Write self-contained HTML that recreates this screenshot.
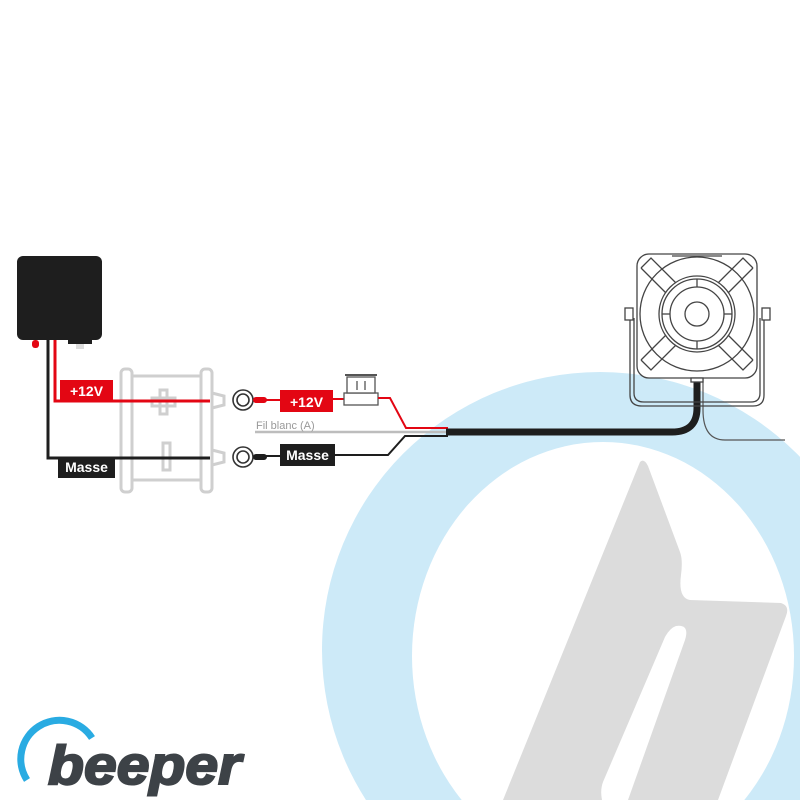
<!DOCTYPE html>
<html><head><meta charset="utf-8"><style>
html,body{margin:0;padding:0;background:#fff;width:800px;height:800px;overflow:hidden;}
svg{display:block;}
</style></head><body>
<svg width="800" height="800" viewBox="0 0 800 800" xmlns="http://www.w3.org/2000/svg" font-family="Liberation Sans, sans-serif">
<circle cx="600" cy="650" r="278" fill="#cdeaf8"/>
<ellipse cx="603" cy="656" rx="191" ry="214" fill="#fff"/>
<path d="M640,462 Q644,458 648,466 L680,552 Q683,560 681,575 Q678,598 690,600 L781,603 Q790,606 786,616 L718,800 L503,800 Z" fill="#dcdcdc"/>
<path d="M676,626 Q690,624 685,640 L628,800 L602,800 Q600,790 603,782 L665,637 Q670,628 676,626 Z" fill="#fff"/>

<rect x="17" y="256" width="85" height="84" rx="6" fill="#1e1e1e"/>
<rect x="32" y="340" width="7" height="8" rx="3" fill="#e30613"/>
<rect x="68" y="338" width="24" height="6" fill="#1e1e1e"/>
<rect x="76" y="344" width="8" height="5" fill="#ddd"/>

<g fill="none" stroke="#cfcfcf" stroke-width="3">
<rect x="121" y="369" width="11" height="123" rx="4"/>
<rect x="201" y="369" width="11" height="123" rx="4"/>
<line x1="132" y1="376" x2="201" y2="376"/>
<line x1="132" y1="480" x2="201" y2="480"/>
<path d="M212,393 L224,396 L224,405 L212,408"/>
<path d="M212,450 L224,453 L224,462 L212,465"/>
<rect x="160" y="390" width="7" height="24"/>
<rect x="152" y="398" width="23" height="8"/>
<rect x="163" y="443" width="7" height="27"/>
</g>

<polyline points="48,340 48,458 210,458" fill="none" stroke="#1e1e1e" stroke-width="3"/>
<polyline points="55,340 55,401 210,401" fill="none" stroke="#e30613" stroke-width="3"/>
<rect x="60" y="380" width="53" height="21" fill="#e30613"/>
<text x="86.5" y="396" font-size="14" font-weight="bold" fill="#fff" text-anchor="middle">+12V</text>
<rect x="58" y="457" width="57" height="21" fill="#1e1e1e"/>
<text x="86.5" y="472" font-size="14" font-weight="bold" fill="#fff" text-anchor="middle">Masse</text>

<g fill="none" stroke="#333" stroke-width="1.6">
<circle cx="243" cy="400" r="10"/><circle cx="243" cy="400" r="6"/>
<circle cx="243" cy="457" r="10"/><circle cx="243" cy="457" r="6"/>
</g>
<rect x="253" y="397" width="14" height="6" rx="3" fill="#e30613"/>
<rect x="253" y="454" width="14" height="6" rx="3" fill="#1e1e1e"/>

<line x1="265" y1="400" x2="282" y2="400" stroke="#e30613" stroke-width="2"/>
<rect x="280" y="390" width="53" height="22" fill="#e30613"/>
<text x="306.5" y="407" font-size="14" font-weight="bold" fill="#fff" text-anchor="middle">+12V</text>
<line x1="333" y1="399" x2="344" y2="399" stroke="#e30613" stroke-width="2"/>
<rect x="344" y="393" width="34" height="12" fill="#fff" stroke="#555" stroke-width="1.3"/>
<rect x="347" y="377" width="28" height="16" fill="#fff" stroke="#555" stroke-width="1.3"/>
<line x1="345" y1="375" x2="377" y2="375" stroke="#555" stroke-width="2"/>
<line x1="357" y1="381" x2="357" y2="390" stroke="#555" stroke-width="1.3"/>
<line x1="365" y1="381" x2="365" y2="390" stroke="#555" stroke-width="1.3"/>
<polyline points="378,398 390,398 406,428 448,428" fill="none" stroke="#e30613" stroke-width="2"/>

<line x1="255" y1="432" x2="448" y2="432" stroke="#bdbdbd" stroke-width="2.5"/>
<text x="256" y="429" font-size="11" fill="#999">Fil blanc (A)</text>

<line x1="265" y1="456" x2="282" y2="456" stroke="#1e1e1e" stroke-width="2"/>
<rect x="280" y="444" width="55" height="22" fill="#1e1e1e"/>
<text x="307.5" y="460" font-size="14" font-weight="bold" fill="#fff" text-anchor="middle">Masse</text>
<polyline points="335,455 388,455 405,436 448,436" fill="none" stroke="#1e1e1e" stroke-width="2"/>

<path d="M446,432 L672,432 Q697,432 697,408 L697,376" fill="none" stroke="#1e1e1e" stroke-width="7"/>
<path d="M703,378 L703,410 Q703,440 725,440 L785,440" fill="none" stroke="#555" stroke-width="1.2"/>

<g fill="none" stroke="#444" stroke-width="1.3">
<path d="M630,318 L630,395 Q630,406 642,406 L753,406 Q764,406 764,395 L764,318"/>
<path d="M634,318 L634,393 Q634,402 644,402 L751,402 Q760,402 760,393 L760,318"/>
<rect x="625" y="308" width="8" height="12" fill="#fff"/>
<rect x="762" y="308" width="8" height="12" fill="#fff"/>
<rect x="637" y="254" width="120" height="124" rx="12" fill="#fff"/>
<line x1="672" y1="256" x2="722" y2="256"/>
<circle cx="697" cy="314" r="57"/>
<circle cx="697" cy="314" r="38"/>
<circle cx="697" cy="314" r="35"/>
<circle cx="697" cy="314" r="27"/>
<circle cx="697" cy="314" r="12"/>
<line x1="697" y1="279" x2="697" y2="287"/><line x1="697" y1="341" x2="697" y2="349"/>
<line x1="662" y1="314" x2="670" y2="314"/><line x1="724" y1="314" x2="732" y2="314"/>
<path d="M641,268 L651,258 L676,283 M641,268 L666,293"/>
<path d="M753,268 L743,258 L718,283 M753,268 L728,293"/>
<path d="M641,360 L651,370 L676,345 M641,360 L666,335"/>
<path d="M753,360 L743,370 L718,345 M753,360 L728,335"/>
<rect x="691" y="378" width="12" height="4" fill="#fff"/>
</g>

<path d="M27,780 A32,32 0 0 1 92,738" fill="none" stroke="#29abe2" stroke-width="7"/>
<text x="0" y="0" font-size="64" font-weight="bold" font-style="italic" fill="#3d4247" stroke="#3d4247" stroke-width="2.5" transform="translate(48,784) scale(0.92,0.85)">beeper</text>
</svg>
</body></html>
